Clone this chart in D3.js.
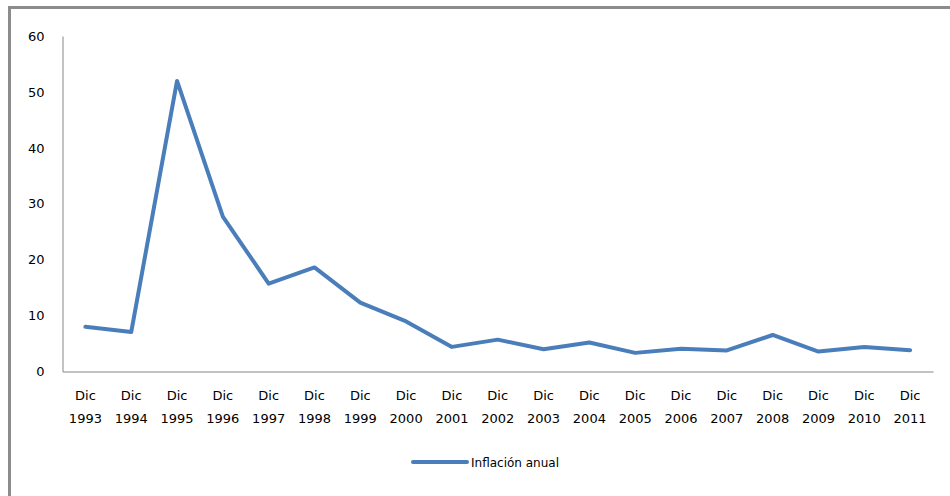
<!DOCTYPE html>
<html>
<head>
<meta charset="utf-8">
<script src="https://cdn.jsdelivr.net/npm/d3@7"></script>
<style>
  html, body { margin: 0; padding: 0; background: #fff; }
  svg { display: block; }
</style>
</head>
<body>
<svg id="chart" width="950" height="496"></svg>
<script>
// Annual inflation, December of each year
const months = ["Dic","Dic","Dic","Dic","Dic","Dic","Dic","Dic","Dic","Dic","Dic","Dic","Dic","Dic","Dic","Dic","Dic","Dic","Dic"];
const years = ["1993","1994","1995","1996","1997","1998","1999","2000","2001","2002","2003","2004","2005","2006","2007","2008","2009","2010","2011"];
const inflation = [8.01, 7.05, 51.97, 27.70, 15.72, 18.61, 12.32, 8.96, 4.40, 5.70, 3.98, 5.19, 3.33, 4.05, 3.76, 6.53, 3.57, 4.40, 3.82];
const yTicks = [0, 10, 20, 30, 40, 50, 60];
const seriesName = "Inflación anual";

const svg = d3.select("#chart");
const font = "'DejaVu Sans', Verdana, sans-serif";
const lineColor = "#4a7ebb";

// outer frame: top and left edges
svg.append("line").attr("x1", 8).attr("x2", 950).attr("y1", 7.5).attr("y2", 7.5)
  .attr("stroke", "#8c8c8c").attr("stroke-width", 3);
svg.append("line").attr("x1", 9.5).attr("x2", 9.5).attr("y1", 6).attr("y2", 496)
  .attr("stroke", "#8c8c8c").attr("stroke-width", 3);

const plot = { left: 62.5, right: 933, top: 36, bottom: 371.5 };

const x = d3.scaleBand().domain(years).range([plot.left, plot.right]);
const y = d3.scaleLinear().domain([0, 60]).range([plot.bottom, plot.top]);

// y axis
const yAxis = svg.append("g").attr("transform", `translate(${plot.left},0)`)
  .call(d3.axisLeft(y).tickValues(yTicks).tickSize(0).tickPadding(18));
yAxis.select(".domain").attr("stroke", "#868686");
yAxis.selectAll("text").attr("font-family", font).attr("font-size", 13).attr("fill", "#000");

// x axis
const xAxis = svg.append("g").attr("transform", `translate(0,${plot.bottom})`)
  .call(d3.axisBottom(x).tickSize(0).tickFormat(""));
xAxis.select(".domain").attr("stroke", "#868686");
xAxis.selectAll(".tick").each(function(d, i) {
  const t = d3.select(this).append("text")
    .attr("text-anchor", "middle").attr("font-family", font).attr("font-size", 13).attr("fill", "#000");
  t.append("tspan").attr("x", 0).attr("y", 28).text(months[i]);
  t.append("tspan").attr("x", 0).attr("y", 51).text(d);
});

// series line
const line = d3.line()
  .x((d, i) => x(years[i]) + x.bandwidth() / 2)
  .y(d => y(d));
svg.append("path").datum(inflation)
  .attr("d", line).attr("fill", "none")
  .attr("stroke", lineColor).attr("stroke-width", 4)
  .attr("stroke-linejoin", "round").attr("stroke-linecap", "round");

// legend
const lg = svg.append("g").attr("transform", "translate(413,462)");
lg.append("line").attr("x1", 0).attr("x2", 54).attr("y1", 0).attr("y2", 0)
  .attr("stroke", lineColor).attr("stroke-width", 4).attr("stroke-linecap", "round");
lg.append("text").attr("x", 58).attr("y", 4.5)
  .attr("font-family", font).attr("font-size", 12).attr("fill", "#000").text(seriesName);
</script>
</body>
</html>
